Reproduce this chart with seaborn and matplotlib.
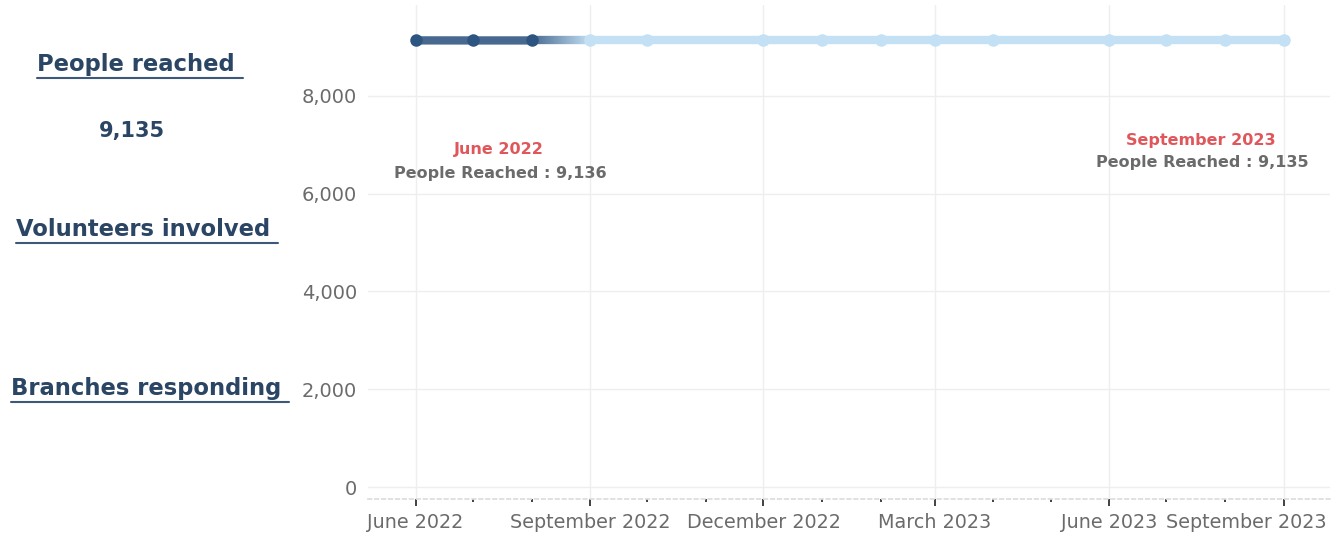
import matplotlib
matplotlib.use("Agg")
import matplotlib.pyplot as plt
import matplotlib.dates as mdates
from matplotlib.collections import LineCollection
from matplotlib.lines import Line2D
from matplotlib.colors import to_rgb
from matplotlib.transforms import ScaledTranslation
import seaborn as sns
import pandas as pd
import numpy as np

# data
months = ["2022-06-01", "2022-07-01", "2022-08-01", "2022-09-01", "2022-10-01",
          "2022-12-01", "2023-01-01", "2023-02-01", "2023-03-01", "2023-04-01",
          "2023-06-01", "2023-07-01", "2023-08-01", "2023-09-01"]
people_reached = [9136, 9135, 9135, 9135, 9135, 9135, 9135, 9135, 9135, 9135,
                  9135, 9135, 9135, 9135]
n_past = 3  # dark (earlier) segment
kpi_labels = ["People reached", "Volunteers involved", "Branches responding"]
kpi_value = "9,135"

DARK = "#2d5581"
DARK_LINE = "#48698f"
LIGHT = "#c3e0f4"
NAVY_TXT = "#2b4564"
RED = "#e0575b"
GREY = "#6b6b6b"

sns.set_theme(style="white")
plt.rcParams["font.family"] = ["DejaVu Sans"]

df = pd.DataFrame({"month": pd.to_datetime(months), "people": people_reached})
past = df.iloc[:n_past]
recent = df.iloc[n_past:]

fig = plt.figure(figsize=(13.41, 5.39), dpi=100)
ax = fig.add_axes([368 / 1341, 1 - 499 / 539, (1330 - 368) / 1341, (499 - 5) / 539])

sns.lineplot(data=recent, x="month", y="people", ax=ax, color=LIGHT, lw=6,
             marker="o", markersize=9, markeredgewidth=0, zorder=3)
sns.lineplot(data=past, x="month", y="people", ax=ax, color=DARK_LINE, lw=6,
             marker="o", markersize=9, markeredgewidth=0,
             markerfacecolor=DARK, zorder=3)

# gradient link between the two segments
x0 = mdates.date2num(past["month"].iloc[-1])
x1 = mdates.date2num(recent["month"].iloc[0])
y0 = past["people"].iloc[-1]
y1 = recent["people"].iloc[0]
t = np.linspace(0, 1, 80)
xs = x0 + t * (x1 - x0)
ys = y0 + t * (y1 - y0)
pts = np.column_stack([xs, ys]).reshape(-1, 1, 2)
segs = np.concatenate([pts[:-1], pts[1:]], axis=1)
c0, c1 = np.array(to_rgb(DARK_LINE)), np.array(to_rgb(LIGHT))
cols = [c0 + (c1 - c0) * tt for tt in t[:-1]]
ax.add_collection(LineCollection(segs, colors=cols, linewidths=6, zorder=2.5))

ax.set_xlim(pd.Timestamp("2022-05-07"), pd.Timestamp("2023-09-25"))
ax.set_ylim(-245, 9860)
ax.set_yticks([0, 2000, 4000, 6000, 8000])
ax.yaxis.set_major_formatter(matplotlib.ticker.StrMethodFormatter("{x:,.0f}"))
ax.xaxis.set_major_locator(mdates.MonthLocator(bymonth=[3, 6, 9, 12]))
ax.xaxis.set_minor_locator(mdates.MonthLocator())
ax.xaxis.set_major_formatter(mdates.DateFormatter("%B %Y"))
ax.set_xlabel("")
ax.set_ylabel("")

ax.grid(True, which="major", color="#eeeeee", lw=1)
for s in ["top", "right", "left"]:
    ax.spines[s].set_visible(False)
ax.spines["bottom"].set_color("#dddddd")
ax.spines["bottom"].set_linestyle((0, (2, 2)))
ax.tick_params(axis="x", which="major", length=5, width=1.3, color="#333333",
               labelsize=13.8, labelcolor=GREY, pad=5, bottom=True)
ax.tick_params(axis="x", which="minor", length=2, width=1.3, color="#333333", bottom=True)
ax.tick_params(axis="y", length=0, labelsize=14, labelcolor=GREY, pad=8)

# keep the last date label inside the figure
fig.canvas.draw()
last_lab = ax.get_xticklabels()[-1]
last_lab.set_transform(last_lab.get_transform() + ScaledTranslation(-38 / 100, 0, fig.dpi_scale_trans))

# annotations for first and last points
first, last = df.iloc[0], df.iloc[-1]
ax.annotate(first["month"].strftime("%B %Y"), (first["month"], first["people"]),
            xytext=(83, -109), textcoords="offset pixels", ha="center", va="center",
            color=RED, fontsize=11.5, fontweight="bold")
ax.annotate(f"People Reached : {first['people']:,}", (first["month"], first["people"]),
            xytext=(85, -133), textcoords="offset pixels", ha="center", va="center",
            color=GREY, fontsize=11.5, fontweight="bold")
ax.annotate(last["month"].strftime("%B %Y"), (last["month"], last["people"]),
            xytext=(-84, -100), textcoords="offset pixels", ha="center", va="center",
            color=RED, fontsize=11.5, fontweight="bold")
ax.annotate(f"People Reached : {last['people']:,}", (last["month"], last["people"]),
            xytext=(-82, -122), textcoords="offset pixels", ha="center", va="center",
            color=GREY, fontsize=11.5, fontweight="bold")

# left KPI panel
kpi_pos = [(136, 64), (143, 229), (146, 388)]
heads = []
for lab, (px, py) in zip(kpi_labels, kpi_pos):
    heads.append(fig.text(px / 1341, 1 - py / 539, lab, ha="center", va="center",
                          fontsize=16.3, fontweight="bold", color=NAVY_TXT))
fig.text(132 / 1341, 1 - 131 / 539, kpi_value, ha="center", va="center",
         fontsize=15, fontweight="bold", color=NAVY_TXT)

fig.canvas.draw()
r = fig.canvas.get_renderer()
for h in heads:
    bb = h.get_window_extent(r)
    yl = bb.y0 - 2
    fig.add_artist(Line2D([(bb.x0) / 1341, (bb.x1 + 8) / 1341], [yl / 539, yl / 539],
                          transform=fig.transFigure, color="#3d5878", lw=1.5))

fig.savefig("out.png", dpi=100)
